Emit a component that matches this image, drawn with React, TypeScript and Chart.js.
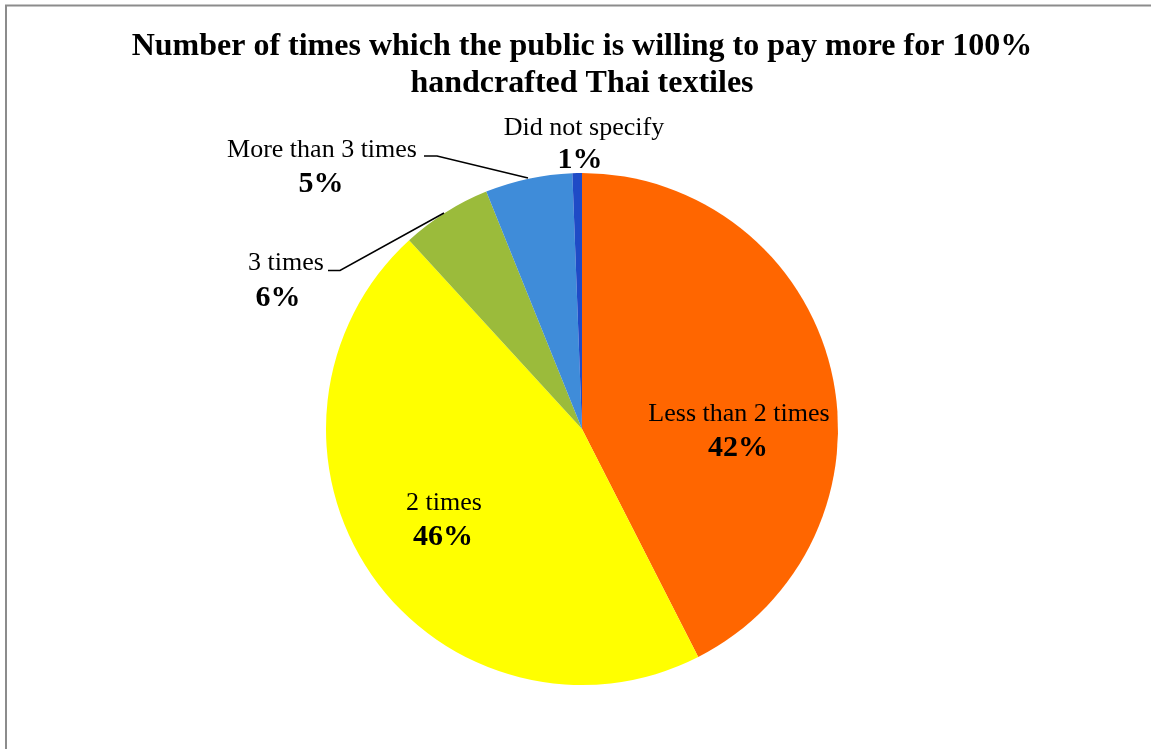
import React, { useEffect, useRef } from "react";
import { Chart, registerables } from "chart.js";

Chart.register(...registerables);

const titleLines = [
  "Number of times which the public is willing to pay more for 100%",
  "handcrafted Thai textiles",
];
const categories = ["Less than 2 times", "2 times", "3 times", "More than 3 times", "Did not specify"];
const values = [42.5, 45.7, 5.7, 5.5, 0.6];
const percentLabels = ["42%", "46%", "6%", "5%", "1%"];
const colors = ["#FF6600", "#FFFF00", "#9BBB3B", "#3F8CD9", "#1F4BC6"];

// label layout (name baseline, percent baseline, center x)
const labelLayout = [
  { x: 739, nameY: 421, pctX: 738, pctY: 456 },
  { x: 444, nameY: 510, pctX: 443, pctY: 545 },
  { x: 286, nameY: 270, pctX: 278, pctY: 306 },
  { x: 322, nameY: 157, pctX: 321, pctY: 192 },
  { x: 584, nameY: 135, pctX: 580, pctY: 168 },
];
const leaders: Record<number, number[][]> = {
  2: [[328, 270.5], [340, 270.5], [444, 213]],
  3: [[424, 156], [437, 156], [528, 178]],
};

const overlay = {
  id: "overlay",
  afterDraw(chart: any) {
    const ctx = chart.ctx as CanvasRenderingContext2D;
    ctx.save();
    // frame
    ctx.strokeStyle = "#8C8C8C";
    ctx.lineWidth = 2;
    ctx.beginPath();
    ctx.moveTo(6, 760);
    ctx.lineTo(6, 5.5);
    ctx.lineTo(1160, 5.5);
    ctx.stroke();
    // title
    ctx.fillStyle = "#000";
    ctx.textAlign = "center";
    ctx.textBaseline = "alphabetic";
    ctx.font = "bold 32px 'Liberation Serif', 'Times New Roman', serif";
    ctx.fillText(titleLines[0], 582, 55);
    ctx.fillText(titleLines[1], 582, 92);
    // leader lines
    ctx.strokeStyle = "#000";
    ctx.lineWidth = 1.5;
    Object.keys(leaders).forEach((k) => {
      const pts = leaders[+k];
      ctx.beginPath();
      ctx.moveTo(pts[0][0], pts[0][1]);
      for (let i = 1; i < pts.length; i++) ctx.lineTo(pts[i][0], pts[i][1]);
      ctx.stroke();
    });
    // labels
    categories.forEach((name, i) => {
      const L = labelLayout[i];
      ctx.font = "26px 'Liberation Serif', 'Times New Roman', serif";
      ctx.fillText(name, L.x, L.nameY);
      ctx.font = "bold 30px 'Liberation Serif', 'Times New Roman', serif";
      ctx.fillText(percentLabels[i], L.pctX, L.pctY);
    });
    ctx.restore();
  },
};

export default function App() {
  const ref = useRef<HTMLCanvasElement>(null);
  useEffect(() => {
    document.body.style.margin = "0";
    const chart = new Chart(ref.current!, {
      type: "pie",
      data: {
        labels: categories,
        datasets: [
          {
            data: values,
            backgroundColor: colors,
            borderWidth: 0,
          },
        ],
      },
      options: {
        animation: false,
        responsive: false,
        maintainAspectRatio: false,
        layout: { padding: { left: 326, right: 313, top: 173, bottom: 64 } },
        plugins: {
          legend: { display: false },
          title: { display: false },
          tooltip: { enabled: false },
        },
      },
      plugins: [overlay],
    });
    return () => chart.destroy();
  }, []);
  return (
    <div style={{ width: 1151, height: 749, background: "#fff" }}>
      <canvas ref={ref} width={1151} height={749} style={{ display: "block" }} />
    </div>
  );
}
